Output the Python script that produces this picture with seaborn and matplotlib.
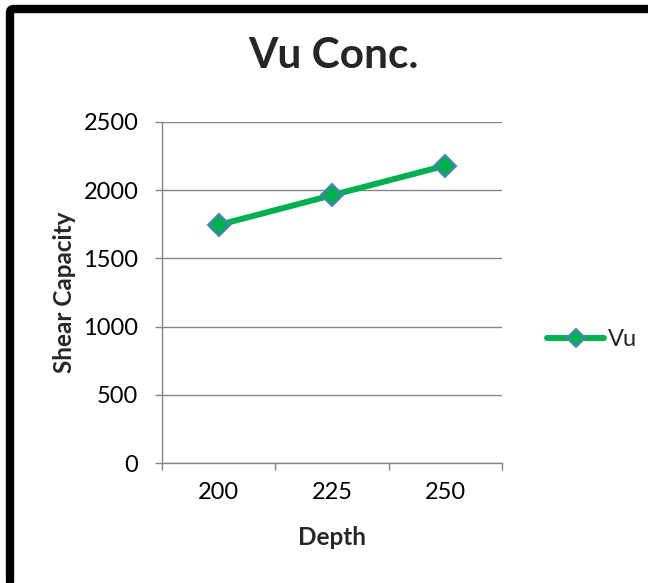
import matplotlib
matplotlib.use("Agg")
import matplotlib.pyplot as plt
import seaborn as sns
import pandas as pd
from matplotlib.patches import FancyBboxPatch
from matplotlib.lines import Line2D

depth = [200, 225, 250]
vu = [1745, 1963, 2180]
y_ticks = [0, 500, 1000, 1500, 2000, 2500]
series_name = "Vu"
title = "Vu Conc."
x_label = "Depth"
y_label = "Shear Capacity"

sns.set_theme(style="white")
plt.rcParams['font.family'] = ['Lato', 'DejaVu Sans']

W, H = 648, 583
fig = plt.figure(figsize=(W / 100, H / 100), dpi=100)
ax = fig.add_axes([162 / W, 1 - 463 / H, (502 - 162) / W, (463 - 122) / H])

df = pd.DataFrame({"Depth": depth, "Vu": vu})
line_color = "#00B050"
edge_color = "#4F81BD"
sns.lineplot(data=df, x="Depth", y="Vu", ax=ax, color=line_color, linewidth=4.3,
             marker="D", markersize=11, markerfacecolor=line_color,
             markeredgecolor=edge_color, markeredgewidth=1.5, legend=False)

grey = "#868686"
ax.set_xlim(187.5, 262.5)
ax.set_ylim(0, 2500)
ax.set_yticks(y_ticks)
ax.set_yticklabels([str(v) for v in y_ticks])
ax.set_xticks(depth)
ax.set_xticklabels([str(d) for d in depth])
ax.set_xticks([187.5, 212.5, 237.5, 262.5], minor=True)
ax.grid(axis="y", color=grey, linewidth=1.0)
ax.set_axisbelow(True)
for s in ["top", "right"]:
    ax.spines[s].set_visible(False)
for s in ["left", "bottom"]:
    ax.spines[s].set_color(grey)
    ax.spines[s].set_linewidth(1.0)
ax.tick_params(axis="y", which="major", length=5, width=1.0, color=grey,
               direction="out", left=True, labelsize=17, labelcolor="black", pad=12)
ax.tick_params(axis="x", which="major", length=0, labelsize=17, labelcolor="black", pad=14)
ax.tick_params(axis="x", which="minor", length=5, width=1.0, color=grey,
               direction="out", bottom=True)

ax.set_xlabel(x_label, fontsize=17.5, fontweight="bold", labelpad=16)
ax.set_ylabel(y_label, fontsize=17.5, fontweight="bold", labelpad=5)
fig.text(333 / W, 1 - 56 / H, title, ha="center", va="center",
         fontsize=30.5, fontweight="bold")

handle = Line2D([], [], color=line_color, linewidth=4.3, marker="D", markersize=9,
                markerfacecolor=line_color, markeredgecolor=edge_color, markeredgewidth=1.5)
fig.legend([handle], [series_name], loc="center left",
           bbox_to_anchor=(538 / W, 1 - 340 / H), frameon=False, fontsize=17,
           handlelength=2.4, handletextpad=0.15, borderaxespad=0)

frame = FancyBboxPatch((10 / W, -2 / H), (W + 20) / W, (585 - 9) / H,
                       boxstyle="round,pad=0,rounding_size=0.006",
                       transform=fig.transFigure, fill=False, edgecolor="black",
                       linewidth=6, clip_on=False)
fig.patches.append(frame)

fig.savefig("out.png", dpi=100)
